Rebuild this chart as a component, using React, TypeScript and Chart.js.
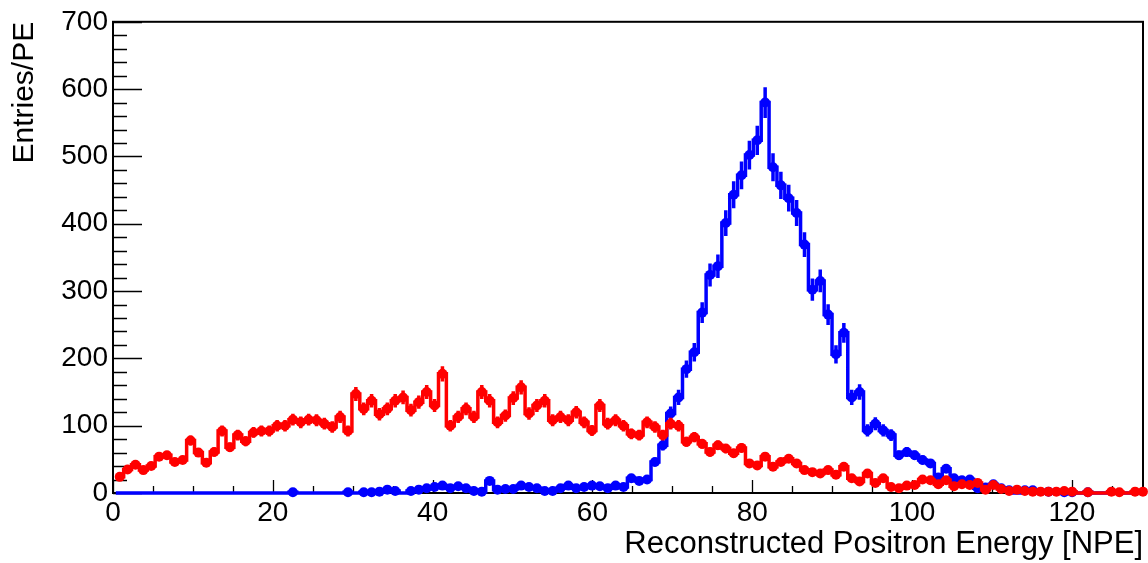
import { useEffect, useRef } from "react";
import { Chart, registerables } from "chart.js";

Chart.register(...registerables);

// ---- axis ranges / ticks ----
const X_MIN = 0;
const X_MAX = 128.9;
const Y_MIN = 0;
const Y_MAX = 700;
const X_TICKS = [0, 20, 40, 60, 80, 100, 120];
const Y_TICKS = [0, 100, 200, 300, 400, 500, 600, 700];
const X_MINOR_STEP = 5;
const Y_MINOR_STEP = 20;

// ---- binning ----
const BIN_START = 0.35;
const BIN_WIDTH = 0.985;

// ---- data (entries per bin) ----
const RED_VALUES = [
  24, 35, 42, 34, 40, 54, 56, 46, 49, 78,
  60, 45, 61, 92, 68, 86, 77, 90, 92, 92,
  100, 100, 109, 105, 109, 108, 103, 98, 113, 92,
  147, 125, 137, 117, 125, 137, 142, 123, 135, 150,
  130, 177, 100, 113, 125, 113, 150, 137, 105, 115,
  141, 157, 118, 130, 137, 108, 113, 108, 120, 105,
  93, 130, 103, 108, 100, 88, 86, 105, 98, 86,
  103, 100, 76, 83, 73, 61, 71, 66, 59, 67,
  44, 41, 54, 39, 46, 51, 44, 34, 31, 29,
  34, 27, 39, 22, 17, 29, 15, 22, 9, 7,
  11, 12, 20, 19, 13, 19, 10, 13, 12, 15,
  5, 12, 6, 3, 5, 3, 2, 2, 2, 2,
  3, 2, 0, 1, 0, 0, 2, 1, 0, 2, 2,
];

const BLUE_VALUES = [
  0, 0, 0, 0, 0, 0, 0, 0, 0, 0,
  0, 0, 0, 0, 0, 0, 0, 0, 0, 0,
  0, 0, 1, 0, 0, 0, 0, 0, 0, 1,
  0, 1, 1, 2, 5, 3, 0, 3, 5, 7,
  9, 11, 7, 10, 7, 3, 2, 18, 5, 6,
  6, 11, 9, 7, 3, 3, 7, 11, 7, 9,
  11, 10, 7, 11, 9, 22, 18, 20, 46, 71,
  118, 142, 184, 209, 268, 324, 337, 401, 443, 472,
  502, 524, 580, 484, 457, 438, 416, 369, 302, 315,
  265, 206, 238, 142, 150, 93, 103, 93, 86, 56,
  61, 56, 49, 44, 23, 36, 22, 19, 20, 7,
  8, 13, 7, 4, 0, 4, 4, 0, 2, 0,
  1, 1, 0, 1, 0, 0, 0, 0, 0, 0, 0,
];

const RED_ERR_SCALE = 0.85;
const BLUE_ERR_SCALE = 0.95;

const X_TITLE = "Reconstructed Positron Energy [NPE]";
const Y_TITLE = "Entries/PE";

const RED = "#ff0000";
const BLUE = "#0000ff";
const FONT_FAMILY = "'Liberation Sans', Arial, Helvetica, sans-serif";
const LINE_W = 3.5;
const MARKER_R = 5;

function stepPoints(values: number[]) {
  const pts: { x: number; y: number }[] = [];
  values.forEach((v, i) => {
    const lo = BIN_START + i * BIN_WIDTH;
    pts.push({ x: lo, y: v });
    pts.push({ x: lo + BIN_WIDTH, y: v });
  });
  return pts;
}

function centerPoints(values: number[]) {
  return values.map((v, i) => ({ x: BIN_START + (i + 0.5) * BIN_WIDTH, y: v }));
}

const frameTicks = {
  id: "frameTicks",
  beforeDatasetsDraw(chart: any) {
    const { ctx, chartArea: a, scales } = chart;
    const xs = scales.x;
    const ys = scales.y;
    ctx.save();
    ctx.strokeStyle = "#000";
    ctx.lineWidth = 1.3;
    ctx.beginPath();
    for (let v = Y_MIN; v <= Y_MAX + 1e-6; v += Y_MINOR_STEP) {
      const py = Math.round(ys.getPixelForValue(v)) + 0.5;
      const len = v % 100 === 0 ? 29 : 14;
      ctx.moveTo(a.left, py);
      ctx.lineTo(a.left + len, py);
    }
    for (let v = X_MIN; v <= X_MAX + 1e-6; v += X_MINOR_STEP) {
      const px = Math.round(xs.getPixelForValue(v)) + 0.5;
      const len = v % 20 === 0 ? 13 : 7;
      ctx.moveTo(px, a.bottom);
      ctx.lineTo(px, a.bottom - len);
    }
    ctx.stroke();
    ctx.lineWidth = 2;
    ctx.strokeRect(a.left, a.top, a.right - a.left, a.bottom - a.top);
    ctx.restore();
  },
};

const errorBars = {
  id: "errorBars",
  afterDatasetDraw(chart: any, args: any) {
    const ds = chart.data.datasets[args.index];
    if (!ds.errValues) return;
    const { ctx, scales } = chart;
    const xs = scales.x;
    const ys = scales.y;
    ctx.save();
    ctx.strokeStyle = ds.borderColor;
    ctx.lineWidth = LINE_W;
    ctx.beginPath();
    ds.errValues.forEach((v: number, i: number) => {
      if (v <= 0) return;
      const e = Math.sqrt(v) * ds.errScale;
      const px = xs.getPixelForValue(BIN_START + (i + 0.5) * BIN_WIDTH);
      if (px > chart.chartArea.right) return;
      ctx.moveTo(px, ys.getPixelForValue(Math.max(0, v - e)));
      ctx.lineTo(px, ys.getPixelForValue(v + e));
    });
    ctx.stroke();
    ctx.restore();
  },
};

export default function App() {
  const ref = useRef<HTMLCanvasElement | null>(null);

  useEffect(() => {
    if (!ref.current) return;
    const mk = (values: number[]) =>
      values.map((v) => (v > 0 ? MARKER_R : 0));
    const chart = new Chart(ref.current, {
      type: "line",
      data: {
        datasets: [
          {
            label: "blue-hist",
            data: stepPoints(BLUE_VALUES),
            borderColor: BLUE,
            borderWidth: LINE_W,
            pointRadius: 0,
            fill: false,
            tension: 0,
            order: 4,
            clip: { left: 0, right: 0, top: 0, bottom: 4 },
            errValues: BLUE_VALUES,
            errScale: BLUE_ERR_SCALE,
          } as any,
          {
            label: "blue-mk",
            data: centerPoints(BLUE_VALUES),
            showLine: false,
            pointRadius: mk(BLUE_VALUES),
            pointBackgroundColor: BLUE,
            pointBorderWidth: 0,
            borderColor: BLUE,
            order: 3,
            clip: false,
          } as any,
          {
            label: "red-hist",
            data: stepPoints(RED_VALUES),
            borderColor: RED,
            borderWidth: LINE_W,
            pointRadius: 0,
            fill: false,
            tension: 0,
            order: 2,
            clip: { left: 0, right: 0, top: 0, bottom: 4 },
            errValues: RED_VALUES,
            errScale: RED_ERR_SCALE,
          } as any,
          {
            label: "red-mk",
            data: centerPoints(RED_VALUES),
            showLine: false,
            pointRadius: mk(RED_VALUES),
            pointBackgroundColor: RED,
            pointBorderWidth: 0,
            borderColor: RED,
            order: 1,
            clip: false,
          } as any,
        ],
      },
      options: {
        responsive: false,
        devicePixelRatio: 1,
        animation: false,
        events: [],
        layout: { padding: { left: 0, right: 5, top: 19, bottom: 0 } },
        plugins: {
          legend: { display: false },
          tooltip: { enabled: false },
        },
        scales: {
          x: {
            type: "linear",
            min: X_MIN,
            max: X_MAX,
            grid: { display: false, drawTicks: false },
            border: { display: false },
            afterBuildTicks: (s: any) => {
              s.ticks = X_TICKS.map((v) => ({ value: v }));
            },
            afterFit: (s: any) => {
              s.height = 70;
            },
            ticks: {
              color: "#000",
              padding: 3,
              maxRotation: 0,
              autoSkip: false,
              font: { family: FONT_FAMILY, size: 28 },
            },
            title: {
              display: true,
              text: X_TITLE,
              align: "end",
              color: "#000",
              padding: { top: 0, bottom: 0 },
              font: { family: FONT_FAMILY, size: 31 },
            },
          },
          y: {
            type: "linear",
            min: Y_MIN,
            max: Y_MAX,
            grid: { display: false, drawTicks: false },
            border: { display: false },
            afterBuildTicks: (s: any) => {
              s.ticks = Y_TICKS.map((v) => ({ value: v }));
            },
            afterFit: (s: any) => {
              s.width = 113;
            },
            ticks: {
              color: "#000",
              padding: 5,
              autoSkip: false,
              font: { family: FONT_FAMILY, size: 28 },
            },
            title: {
              display: true,
              text: Y_TITLE,
              align: "end",
              color: "#000",
              padding: { top: 7, bottom: 0 },
              font: { family: FONT_FAMILY, size: 30 },
            },
          },
        },
      } as any,
      plugins: [frameTicks, errorBars],
    });
    return () => chart.destroy();
  }, []);

  return (
    <div style={{ position: "fixed", left: 0, top: 0, width: 1148, height: 563, background: "#fff" }}>
      <canvas ref={ref} width={1148} height={563} style={{ display: "block" }} />
    </div>
  );
}
